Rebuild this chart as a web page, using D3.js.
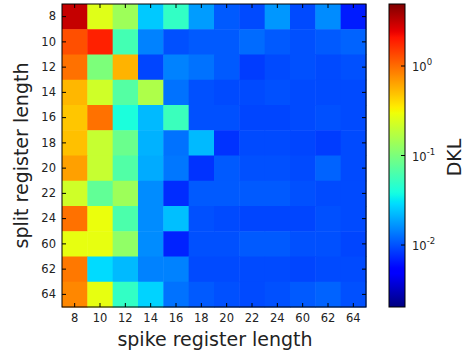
<!DOCTYPE html>
<html>
<head>
<meta charset="utf-8">
<script src="https://cdn.jsdelivr.net/npm/d3@7"></script>
<style>
  body { margin: 0; background: #fff; }
  text { font-family: "DejaVu Sans", sans-serif; fill: #222; }
  .axis path { display: none; }
  .axis line { stroke: #000; }
</style>
</head>
<body>
<div id="chart"></div>
<script>
// register lengths on both axes
const spikeLengths = ["8", "10", "12", "14", "16", "18", "20", "22", "24", "60", "62", "64"];
const splitLengths = ["8", "10", "12", "14", "16", "18", "20", "22", "24", "60", "62", "64"];

// DKL per split length (rows) and spike length (columns)
const dkl = [
  [3.08, 0.256, 0.138, 0.025, 0.050, 0.0177, 0.0107, 0.0095, 0.017, 0.0095, 0.0157, 0.0066],
  [1.27, 1.87, 0.0588, 0.0145, 0.0099, 0.0107, 0.0107, 0.0122, 0.0107, 0.0099, 0.0107, 0.0115],
  [0.96, 0.101, 0.557, 0.0091, 0.0145, 0.0129, 0.0107, 0.0085, 0.0095, 0.0099, 0.0095, 0.0099],
  [0.54, 0.22, 0.069, 0.161, 0.0129, 0.0099, 0.0095, 0.0095, 0.0099, 0.0095, 0.0095, 0.0095],
  [0.478, 0.96, 0.040, 0.0223, 0.054, 0.0099, 0.0099, 0.0091, 0.0091, 0.0095, 0.0099, 0.0095],
  [0.50, 0.203, 0.0846, 0.021, 0.0129, 0.0223, 0.0079, 0.0095, 0.0095, 0.0091, 0.0085, 0.0095],
  [0.65, 0.203, 0.067, 0.0198, 0.0134, 0.0079, 0.0107, 0.0099, 0.0099, 0.0095, 0.0115, 0.0095],
  [0.22, 0.078, 0.138, 0.0157, 0.0075, 0.0107, 0.0107, 0.0107, 0.0107, 0.0099, 0.0095, 0.0095],
  [0.96, 0.288, 0.0635, 0.0157, 0.0232, 0.0099, 0.0095, 0.0091, 0.0091, 0.0091, 0.0099, 0.0095],
  [0.277, 0.277, 0.123, 0.0157, 0.0070, 0.0099, 0.0099, 0.0107, 0.0107, 0.0099, 0.0099, 0.0091],
  [0.91, 0.0286, 0.0223, 0.0145, 0.0145, 0.0095, 0.0095, 0.0095, 0.0095, 0.0091, 0.0095, 0.0095],
  [0.80, 0.277, 0.050, 0.027, 0.0129, 0.0107, 0.0099, 0.0095, 0.0099, 0.0107, 0.0115, 0.0099]
];

const colorRange = [0.00203, 4.93];
const colorTicks = [1, 0.1, 0.01];
const colorTickExp = ["0", "-1", "-2"];

// matplotlib "jet"
const jetR = d3.scaleLinear().domain([0, 0.35, 0.66, 0.89, 1]).range([0, 0, 1, 1, 0.5]).clamp(true);
const jetG = d3.scaleLinear().domain([0, 0.125, 0.375, 0.64, 0.91, 1]).range([0, 0, 1, 1, 0, 0]).clamp(true);
const jetB = d3.scaleLinear().domain([0, 0.11, 0.34, 0.65, 1]).range([0.5, 1, 1, 0, 0]).clamp(true);
const jet = t => d3.rgb(jetR(t) * 255, jetG(t) * 255, jetB(t) * 255).toString();

const W = 465, H = 356;
const plot = {left: 62, top: 4, width: 304, height: 303};
const bar = {left: 389, width: 16};

const svg = d3.select("#chart").append("svg")
    .attr("width", W)
    .attr("height", H);

const x = d3.scaleBand().domain(spikeLengths).range([0, plot.width]);
const y = d3.scaleBand().domain(splitLengths).range([0, plot.height]);
const norm = d3.scaleLog().domain(colorRange).range([0, 1]).clamp(true);

const g = svg.append("g")
    .attr("transform", "translate(" + plot.left + "," + plot.top + ")");

// cells
const cells = [];
dkl.forEach((row, i) => row.forEach((v, j) => cells.push({row: splitLengths[i], col: spikeLengths[j], value: v})));

g.selectAll(".cell")
    .data(cells)
    .enter()
    .append("rect")
    .attr("class", "cell")
    .attr("x", d => x(d.col))
    .attr("y", d => y(d.row))
    .attr("width", x.bandwidth() + 0.5)
    .attr("height", y.bandwidth() + 0.5)
    .attr("fill", d => jet(norm(d.value)));

// axes, ticks pointing inwards on every side
g.append("g").attr("class", "axis")
    .attr("transform", "translate(0," + plot.height + ")")
    .call(d3.axisBottom(x).tickSizeInner(-4).tickSizeOuter(0).tickPadding(7))
    .selectAll("text").style("font-size", "11.5px");

g.append("g").attr("class", "axis")
    .call(d3.axisLeft(y).tickSizeInner(-4).tickSizeOuter(0).tickPadding(6))
    .selectAll("text").style("font-size", "11.5px");

g.append("g").attr("class", "axis")
    .call(d3.axisTop(x).tickSizeInner(-4).tickSizeOuter(0).tickFormat(""));

g.append("g").attr("class", "axis")
    .attr("transform", "translate(" + plot.width + ",0)")
    .call(d3.axisRight(y).tickSizeInner(-4).tickSizeOuter(0).tickFormat(""));

g.append("rect")
    .attr("width", plot.width)
    .attr("height", plot.height)
    .attr("fill", "none")
    .attr("stroke", "#000");

// axis titles
svg.append("text")
    .attr("x", plot.left + plot.width / 2 + 1)
    .attr("y", 346)
    .attr("text-anchor", "middle")
    .style("font-size", "19px")
    .text("spike register length");

svg.append("text")
    .attr("transform", "translate(28," + (plot.top + plot.height / 2) + ") rotate(-90)")
    .attr("text-anchor", "middle")
    .style("font-size", "19px")
    .text("split register length");

// colorbar
const cy = d3.scaleLog().domain(colorRange).range([plot.top + plot.height, plot.top]);

const grad = svg.append("defs").append("linearGradient")
    .attr("id", "jet")
    .attr("x1", 0).attr("y1", 1).attr("x2", 0).attr("y2", 0);
grad.selectAll("stop")
    .data(d3.range(0, 1.0001, 0.01))
    .enter()
    .append("stop")
    .attr("offset", d => d)
    .attr("stop-color", d => jet(d));

svg.append("rect")
    .attr("x", bar.left)
    .attr("y", plot.top)
    .attr("width", bar.width)
    .attr("height", plot.height)
    .attr("fill", "url(#jet)")
    .attr("stroke", "#000");

const ct = svg.append("g");
ct.selectAll("line")
    .data(colorTicks)
    .enter()
    .append("line")
    .attr("x1", bar.left + bar.width - 4)
    .attr("x2", bar.left + bar.width)
    .attr("y1", d => cy(d))
    .attr("y2", d => cy(d))
    .attr("stroke", "#000");

const lab = ct.selectAll("text")
    .data(colorTicks)
    .enter()
    .append("text")
    .attr("x", bar.left + bar.width + 7)
    .attr("y", d => cy(d) + 5)
    .style("font-size", "11.5px");
lab.append("tspan").text("10");
lab.append("tspan")
    .attr("dy", -6)
    .style("font-size", "8.5px")
    .text((d, i) => colorTickExp[i]);

svg.append("text")
    .attr("transform", "translate(461," + (plot.top + plot.height / 2 + 2) + ") rotate(-90)")
    .attr("text-anchor", "middle")
    .style("font-size", "19px")
    .text("DKL");
</script>
</body>
</html>
